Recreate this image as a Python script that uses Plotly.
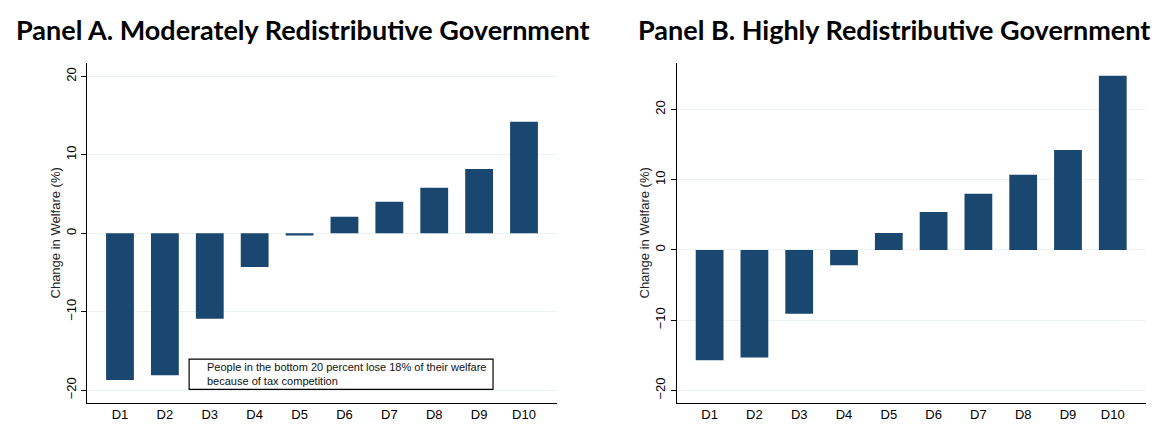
import plotly.graph_objects as go

categories = ["D1", "D2", "D3", "D4", "D5", "D6", "D7", "D8", "D9", "D10"]
panel_a_values = [-18.7, -18.1, -10.9, -4.3, -0.3, 2.1, 4.0, 5.8, 8.2, 14.2]
panel_b_values = [-15.7, -15.3, -9.1, -2.2, 2.4, 5.4, 8.0, 10.7, 14.2, 24.8]
y_ticks = [-20, -10, 0, 10, 20]
title_a = "Panel A. Moderately Redistributive Government"
title_b = "Panel B. Highly Redistributive Government"
note_text = "People in the bottom 20 percent lose 18% of their welfare<br>because of tax competition"
y_title = "Change in Welfare (%)"

W, H = 1160, 437
OFF = 8  # default page body margin
BAR = "#1a476f"
GRID = "#eaf2f3"
TICKFONT = dict(family="Liberation Sans, Arial, sans-serif", size=13, color="black")


def px_x(p):
    return (p - OFF) / W


def px_y(p):
    return 1 - (p - OFF) / H


fig = go.Figure()
fig.add_trace(go.Bar(x=categories, y=panel_a_values, marker_color=BAR,
                     marker_line_width=0, xaxis="x", yaxis="y", showlegend=False))
fig.add_trace(go.Bar(x=categories, y=panel_b_values, marker_color=BAR,
                     marker_line_width=0, xaxis="x2", yaxis="y2", showlegend=False))

ydom = [px_y(402.7), px_y(63)]
xdom_a = [px_x(87), px_x(557)]
xdom_b = [px_x(676.7), px_x(1145.7)]

xcommon = dict(type="category", range=[-0.735, 9.735], showline=True, linecolor="black",
               linewidth=1.3, ticks="", tickfont=TICKFONT, showgrid=False, zeroline=False,
               fixedrange=True)
ycommon = dict(tickvals=y_ticks, showline=True, linecolor="black", linewidth=1.3,
               ticks="outside", ticklen=5, tickwidth=1.3, tickcolor="black",
               tickangle=-90, tickfont=TICKFONT, showgrid=True, gridcolor=GRID,
               gridwidth=1, zeroline=False,
               title=dict(text=y_title, font=dict(family="Liberation Sans, Arial, sans-serif",
                                                   size=13, color="#222"), standoff=0))

fig.update_layout(
    width=W, height=H,
    margin=dict(l=0, r=0, t=0, b=0),
    paper_bgcolor="white", plot_bgcolor="white",
    bargap=0.38,
    xaxis=dict(domain=xdom_a, anchor="y", **xcommon),
    yaxis=dict(domain=ydom, anchor="x", range=[-21.6, 21.7], **ycommon),
    xaxis2=dict(domain=xdom_b, anchor="y2", **xcommon),
    yaxis2=dict(domain=ydom, anchor="x2", range=[-21.75, 26.6], **ycommon),
)

title_font = dict(family="Lato", size=27, color="black")
fig.add_annotation(text="<b>" + title_a + "</b>", xref="paper", yref="paper",
                   x=px_x(14), y=px_y(30), xanchor="left", yanchor="middle",
                   showarrow=False, font=title_font)
fig.add_annotation(text="<b>" + title_b + "</b>", xref="paper", yref="paper",
                   x=px_x(636), y=px_y(30), xanchor="left", yanchor="middle",
                   showarrow=False, font=title_font)

# note box in panel A
fig.add_shape(type="rect", xref="x", yref="y", x0=1.54, x1=8.31, y0=-19.9, y1=-16.05,
              line=dict(color="black", width=1.2), fillcolor="white", layer="above")
fig.add_annotation(text=note_text, xref="x", yref="y", x=1.89, y=-17.9,
                   xanchor="left", yanchor="middle", align="left", showarrow=False,
                   font=dict(family="Liberation Sans, Arial, sans-serif", size=11, color="#111"))

fig.write_html("out.html")
